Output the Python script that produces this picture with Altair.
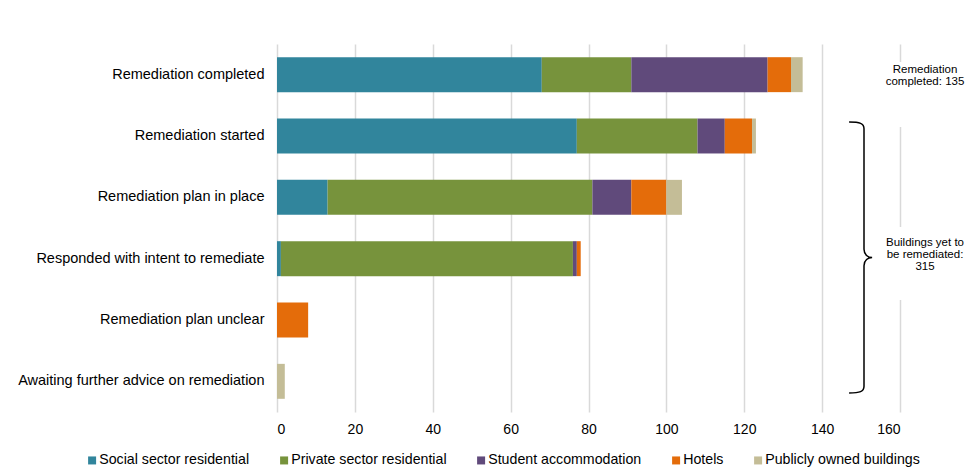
import altair as alt
import pandas as pd

categories = [
    "Remediation completed",
    "Remediation started",
    "Remediation plan in place",
    "Responded with intent to remediate",
    "Remediation plan unclear",
    "Awaiting further advice on remediation",
]
series = [
    "Social sector residential",
    "Private sector residential",
    "Student accommodation",
    "Hotels",
    "Publicly owned buildings",
]
colors = ["#31859C", "#77933C", "#604A7B", "#E46C0A", "#C4BD97"]

social = [68, 77, 13, 1, 0, 0]
private = [23, 31, 68, 75, 0, 0]
student = [35, 7, 10, 1, 0, 0]
hotels = [6, 7, 9, 1, 8, 0]
public = [3, 1, 4, 0, 0, 2]

x_ticks = [0, 20, 40, 60, 80, 100, 120, 140, 160]
note_completed = "Remediation\ncompleted: 135"
note_remaining = "Buildings yet to\nbe remediated:\n315"

FONT = "Liberation Sans"

rows = []
for si, (name, vals) in enumerate(zip(series, [social, private, student, hotels, public])):
    for c, v in zip(categories, vals):
        rows.append({"category": c, "series": name, "value": v, "order": si})
df = pd.DataFrame(rows)

bars = alt.Chart(df).mark_bar().encode(
    y=alt.Y(
        "category:N",
        sort=categories,
        scale=alt.Scale(paddingInner=0.43, paddingOuter=0.215),
        axis=alt.Axis(
            title=None, domain=False, ticks=False, labelPadding=13,
            labelFontSize=14.5, labelFont=FONT, labelColor="black", labelLimit=400,
        ),
    ),
    x=alt.X(
        "value:Q",
        stack="zero",
        scale=alt.Scale(domain=[0, 160], nice=False),
        axis=alt.Axis(
            title=None, values=x_ticks, domain=False, ticks=False,
            grid=True, gridColor="#D9D9D9", gridWidth=1.5,
            labelFontSize=14, labelFont=FONT, labelColor="black", labelPadding=10,
        ),
    ),
    color=alt.Color(
        "series:N",
        scale=alt.Scale(domain=series, range=colors),
        legend=alt.Legend(
            orient="none", legendX=-192, legendY=409, direction="horizontal",
            title=None, symbolType="square", symbolSize=64, symbolStrokeWidth=0,
            labelFontSize=14.2, labelFont=FONT, labelColor="black", labelLimit=300,
            columnPadding=27, labelOffset=0, padding=0,
        ),
    ),
    order=alt.Order("order:Q"),
)

one = pd.DataFrame({"k": [0]})

mask1 = alt.Chart(one).mark_rect(color="white").encode(
    x=alt.value(598), x2=alt.value(700), y=alt.value(18), y2=alt.value(83)
)
mask2 = alt.Chart(one).mark_rect(color="white").encode(
    x=alt.value(598), x2=alt.value(700), y=alt.value(183), y2=alt.value(256)
)

t1 = alt.Chart(pd.DataFrame({"t": [note_completed]})).mark_text(
    align="center", baseline="middle", fontSize=11.5, lineHeight=12,
    font=FONT, color="black", lineBreak="\n",
).encode(text="t:N", x=alt.value(648), y=alt.value(26))

t2 = alt.Chart(pd.DataFrame({"t": [note_remaining]})).mark_text(
    align="center", baseline="middle", fontSize=11.5, lineHeight=12,
    font=FONT, color="black", lineBreak="\n",
).encode(text="t:N", x=alt.value(648), y=alt.value(199))

brace_path = (
    "M -0.11 -1 C -0.03 -1 0 -0.99 0 -0.95 L 0 -0.06 "
    "C 0 -0.02 0.03 0 0.06 0 C 0.03 0 0 0.02 0 0.06 "
    "L 0 0.95 C 0 0.99 -0.03 1 -0.11 1"
)
brace = alt.Chart(one).mark_point(
    shape=brace_path, size=73441, filled=False, stroke="black",
    strokeWidth=1.5, opacity=1, fill="transparent",
).encode(x=alt.value(587), y=alt.value(213.5))

chart = alt.layer(bars, mask1, mask2, t1, t2, brace).properties(
    width=623,
    height=368,
    padding={"left": 269, "top": 36, "right": 66, "bottom": 58},
    autosize=alt.AutoSizeParams(type="none"),
    background="white",
).configure_view(stroke=None)

chart.save("out.html", embed_options={"renderer": "svg", "actions": False})
